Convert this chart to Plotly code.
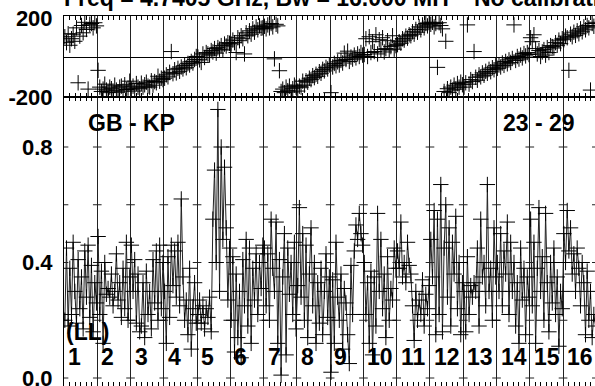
import plotly.graph_objects as go

# ---------------- data ----------------
IF_NUMBERS = [str(i) for i in range(1, 17)]
N_CHAN = 20  # plotted channels per IF

amp = [
    [0.20, 0.45, 0.18, 0.38, 0.22, 0.47, 0.30, 0.19, 0.41, 0.24, 0.35, 0.17, 0.44, 0.28, 0.46, 0.21, 0.39, 0.16, 0.33, 0.26],
    [0.49, 0.22, 0.37, 0.12, 0.40, 0.29, 0.31, 0.28, 0.36, 0.25, 0.30, 0.43, 0.27, 0.33, 0.21, 0.38, 0.24, 0.47, 0.20, 0.35],
    [0.46, 0.30, 0.41, 0.19, 0.36, 0.16, 0.18, 0.33, 0.14, 0.37, 0.22, 0.30, 0.17, 0.41, 0.26, 0.44, 0.20, 0.46, 0.24, 0.40],
    [0.30, 0.12, 0.42, 0.21, 0.46, 0.32, 0.44, 0.28, 0.47, 0.25, 0.62, 0.35, 0.20, 0.27, 0.15, 0.38, 0.10, 0.24, 0.33, 0.19],
    [0.22, 0.27, 0.19, 0.25, 0.17, 0.24, 0.21, 0.28, 0.16, 0.55, 0.72, 0.40, 0.93, 0.30, 0.80, 0.48, 0.73, 0.52, 0.27, 0.45],
    [0.20, 0.42, 0.09, 0.36, 0.14, 0.30, 0.07, 0.41, 0.25, 0.48, 0.18, 0.45, 0.12, 0.38, 0.27, 0.43, 0.22, 0.40, 0.31, 0.46],
    [0.45, 0.25, 0.43, 0.20, 0.55, 0.38, 0.30, 0.54, 0.12, 0.41, 0.01, 0.35, 0.50, 0.08, 0.45, 0.29, 0.40, 0.22, 0.47, 0.17],
    [0.32, 0.59, 0.28, 0.50, 0.20, 0.46, 0.14, 0.36, 0.52, 0.25, 0.40, 0.12, 0.33, 0.19, 0.38, 0.15, 0.30, 0.43, 0.21, 0.35],
    [0.02, 0.34, 0.12, 0.47, 0.28, 0.20, 0.36, 0.10, 0.31, 0.26, 0.15, 0.05, 0.39, 0.22, 0.44, 0.53, 0.48, 0.57, 0.50, 0.46],
    [0.40, 0.22, 0.33, 0.12, 0.37, 0.08, 0.35, 0.18, 0.57, 0.30, 0.48, 0.24, 0.36, 0.14, 0.42, 0.20, 0.31, 0.27, 0.45, 0.38],
    [0.44, 0.38, 0.54, 0.35, 0.40, 0.33, 0.47, 0.39, 0.36, 0.25, 0.13, 0.30, 0.20, 0.27, 0.22, 0.34, 0.18, 0.29, 0.24, 0.32],
    [0.48, 0.35, 0.58, 0.15, 0.55, 0.22, 0.67, 0.16, 0.45, 0.60, 0.28, 0.52, 0.18, 0.47, 0.36, 0.56, 0.24, 0.40, 0.15, 0.33],
    [0.30, 0.16, 0.42, 0.22, 0.32, 0.28, 0.33, 0.30, 0.45, 0.18, 0.55, 0.35, 0.40, 0.25, 0.67, 0.30, 0.38, 0.20, 0.52, 0.35],
    [0.40, 0.30, 0.50, 0.25, 0.44, 0.36, 0.54, 0.22, 0.47, 0.30, 0.40, 0.18, 0.33, 0.12, 0.45, 0.27, 0.38, 0.15, 0.35, 0.28],
    [0.55, 0.25, 0.47, 0.12, 0.38, 0.59, 0.30, 0.42, 0.20, 0.57, 0.33, 0.16, 0.40, 0.26, 0.45, 0.22, 0.35, 0.11, 0.30, 0.24],
    [0.50, 0.40, 0.58, 0.44, 0.52, 0.36, 0.43, 0.30, 0.45, 0.38, 0.25, 0.40, 0.33, 0.15, 0.37, 0.20, 0.30, 0.14, 0.22, 0.18],
]

phase = [
    [105, 75, 120, 62, 95, 118, 82, 150, -128, 108, 162, 125, 178, 142, -160, 168, 172, 150, 176, 160],
    [-65, -150, -172, -160, -135, -165, -178, -150, -158, -170, -140, -165, -176, -150, -145, -170, -138, -162, -155, -120],
    [-160, -145, -170, -132, -150, -158, -130, -150, -138, -125, -145, -150, -118, -140, -122, -128, -95, -120, -105, -112],
    [-105, -88, -98, -75, 30, -82, -62, -78, -55, -70, -48, -58, -40, -52, -30, -38, -20, -28, -10, 5],
    [2, -12, -25, 18, 0, 25, 18, 12, 35, 28, 45, 22, 50, 42, 60, 38, 68, 58, 75, 72],
    [68, 88, 75, 25, 100, 85, 110, 95, 18, 125, 110, 135, 118, 145, 128, 155, 140, 160, 148, 150],
    [158, 145, 165, 150, 172, 155, -7, 168, 160, -67, -172, -160, -178, -150, -168, -145, -175, -158, -140, -150],
    [-170, -145, -150, -120, -140, -118, -125, -105, -112, -92, -102, -85, -95, -72, -80, -60, -68, -50, -58, -38],
    [-178, -48, -30, -42, -22, -38, -15, -28, 22, -10, 32, -20, 2, -8, 12, -2, 18, 5, 25, 12],
    [15, 95, 5, 105, 25, 80, 30, 115, 18, 90, 40, 100, 28, 45, 85, 38, 55, 110, 42, 60],
    [65, 80, 72, 95, 88, 108, 98, 115, 110, 130, 118, 142, 128, 155, 140, 165, 150, 172, 160, 178],
    [168, 178, 155, 172, -50, 176, 162, 145, -172, 82, -158, -178, -150, -165, -140, -160, -132, -150, -125, -138],
    [-150, -128, 165, -135, -112, -122, 30, -100, -115, -88, -98, -78, -90, -70, -80, -60, -72, -52, -62, -42],
    [-55, -38, -48, -28, -40, -20, -32, -12, -25, -5, 165, -15, 5, -8, 12, -2, 20, 8, 25, 15],
    [100, 80, 115, 45, 18, 35, 5, 28, 40, 12, 50, 25, 60, 55, 48, 75, 62, 88, 70, 95],
    [90, 108, 100, -65, 118, 105, 128, 112, 135, 120, 145, 130, 155, 140, 162, 150, -165, 172, 158, 178],
]

AMP_TICKS = [0.0, 0.4, 0.8]
AMP_TICK_TEXT = ["0.0", "0.4", "0.8"]
AMP_DASH_LEVELS = [0.0, 0.2, 0.4, 0.6, 0.8]
PHASE_TICKS = [-200, 200]
PHASE_TICK_TEXT = ["-200", "200"]

TITLE = "Freq = 4.7405 GHz, Bw = 16.000 MH"
TITLE2 = "No calibration"
BASELINE = "GB - KP"
TIMERANGE = "23 - 29"
POL = "(LL)"

# ---------------- figure ----------------
FONT = "Liberation Sans, Arial, sans-serif"
FS = 23
W, H = 595, 386
L, T = 64, 16
PLOT_H = H - T
x_max = 15.96

xs = [i + (j + 0.5) / N_CHAN for i in range(len(amp)) for j in range(N_CHAN)]
amp_flat = [v for row in amp for v in row]
ph_flat = [v for row in phase for v in row]

fig = go.Figure()

# horizontal tick dashes on each IF boundary
dx, dy = [], []
for b in range(len(amp) + 1):
    for lev in AMP_DASH_LEVELS:
        dx += [b - 0.13, b + 0.13, None]
        dy += [lev, lev, None]
fig.add_trace(go.Scatter(x=dx, y=dy, mode="lines", xaxis="x", yaxis="y",
                         line=dict(color="#222222", width=1),
                         showlegend=False, hoverinfo="skip"))

# amplitude: connected crosses
fig.add_trace(go.Scatter(
    x=xs, y=amp_flat, mode="lines+markers", xaxis="x", yaxis="y",
    line=dict(color="#222222", width=1),
    marker=dict(symbol="cross-thin", size=11, line=dict(color="#000000", width=1)),
    showlegend=False, hoverinfo="skip", cliponaxis=True))

# phase: crosses only
fig.add_trace(go.Scatter(
    x=xs, y=ph_flat, mode="markers", xaxis="x2", yaxis="y2",
    marker=dict(symbol="cross-thin", size=11, line=dict(color="#000000", width=1)),
    showlegend=False, hoverinfo="skip", cliponaxis=True))

split = (H - 97) / PLOT_H

axis_common = dict(
    showline=True, linecolor="#000000", linewidth=1, mirror="allticks",
    range=[0, x_max], tick0=0, dtick=1, showgrid=True, gridcolor="#222222", gridwidth=1,
    ticks="", showticklabels=False, zeroline=False, automargin=False,
    minor=dict(dtick=1 / 6, tick0=0, ticks="inside", ticklen=4, tickcolor="#000000", showgrid=False),
)

fig.update_layout(
    template="none",
    width=W, height=H,
    margin=dict(l=L, r=0, t=T, b=0, pad=0),
    paper_bgcolor="white", plot_bgcolor="white",
    font=dict(family=FONT, color="black", size=FS),
    xaxis=dict(anchor="y", **axis_common),
    xaxis2=dict(anchor="y2", matches="x", **axis_common),
    yaxis=dict(domain=[0, split], range=[-8 / 288.75, (H - 97 - 8) / 288.75],
               tickvals=AMP_TICKS, ticktext=[f"<b>{t}</b>" for t in AMP_TICK_TEXT],
               showline=True, linecolor="#000000", mirror=True, showgrid=False,
               zeroline=False, ticks="", automargin=False, ticklabelstandoff=6,
               ticklabeloverflow="allow", tickfont=dict(size=22, family=FONT)),
    yaxis2=dict(domain=[split, 1], range=[-200, 210],
                tickvals=PHASE_TICKS, ticktext=[f"<b>{t}</b>" for t in PHASE_TICK_TEXT],
                showline=True, linecolor="#000000", mirror=True, showgrid=False,
                zeroline=True, zerolinecolor="#000000", zerolinewidth=1,
                ticks="", automargin=False, ticklabelstandoff=6,
                ticklabeloverflow="allow", tickfont=dict(size=22, family=FONT)),
)


def px_x(p):
    return (p - L) / (W - L)


def px_y(p):
    return 1 - (p - T) / PLOT_H


ann = []
ann.append(dict(text=f"<b>{TITLE}</b>", x=px_x(62), y=px_y(-2), xanchor="left", yanchor="middle"))
ann.append(dict(text=f"<b>{TITLE2}</b>", x=px_x(472), y=px_y(-2), xanchor="left", yanchor="middle"))
ann.append(dict(text=f"<b>{BASELINE}</b>", x=px_x(131), y=px_y(123), xanchor="center", yanchor="middle"))
ann.append(dict(text=f"<b>{TIMERANGE}</b>", x=px_x(539), y=px_y(123), xanchor="center", yanchor="middle"))
ann.append(dict(text=f"<b>{POL}</b>", x=px_x(64), y=px_y(332), xanchor="left", yanchor="middle"))
for i, lab in enumerate(IF_NUMBERS):
    ann.append(dict(text=f"<b>{lab}</b>", x=i + 0.06, xref="x", y=px_y(357), xanchor="left", yanchor="middle"))

for a in ann:
    a.setdefault("xref", "paper")
    a["yref"] = "paper"
    a["showarrow"] = False
    a["font"] = dict(size=FS, family=FONT, color="black")
fig.update_layout(annotations=ann)

# the page's default 8px body margin would shift the figure; remove it
fig.write_html("out.html", config={"displayModeBar": False, "staticPlot": True},
               post_script="document.body.style.margin='0';document.body.style.overflow='hidden';")
